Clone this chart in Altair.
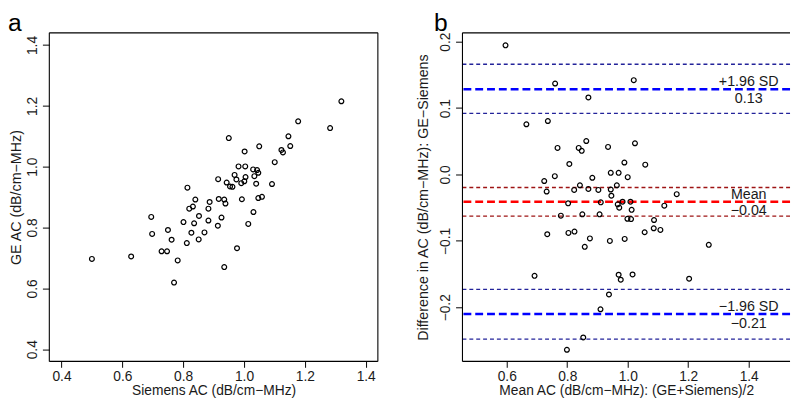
import altair as alt
import pandas as pd

FONT = "Liberation Sans"

# ---- Panel a: Siemens vs GE attenuation coefficient ----
siemens = [1.320, 1.178, 1.283, 0.950, 1.146, 1.050, 1.152, 1.002, 1.123, 1.128,
           1.101, 0.982, 1.004, 1.030, 1.043, 1.047, 1.034, 0.969, 1.005, 0.975,
           1.001, 0.991, 0.915, 0.943, 0.954, 0.962, 1.040, 1.092, 0.814, 0.840,
           0.887, 0.917, 0.935, 0.939, 0.993, 1.047, 1.059, 0.832, 0.820, 0.883,
           1.031, 0.852, 0.926, 0.695, 0.698, 0.750, 0.762, 0.729, 0.747, 0.500,
           0.629, 0.782, 0.770, 0.801, 0.836, 0.827, 0.812, 0.883, 0.870, 0.851,
           0.914, 0.977, 1.014, 0.935]
ge = [1.215, 1.149, 1.127, 1.094, 1.100, 1.067, 1.068, 1.050, 1.055, 1.047,
      1.015, 1.001, 1.001, 0.991, 0.989, 0.980, 0.969, 0.973, 0.966, 0.958,
      0.952, 0.946, 0.959, 0.948, 0.935, 0.934, 0.944, 0.943, 0.931, 0.892,
      0.884, 0.894, 0.892, 0.879, 0.893, 0.897, 0.901, 0.869, 0.862, 0.862,
      0.851, 0.838, 0.833, 0.835, 0.779, 0.792, 0.760, 0.722, 0.722, 0.697,
      0.705, 0.692, 0.619, 0.818, 0.814, 0.783, 0.749, 0.823, 0.784, 0.761,
      0.806, 0.732, 0.812, 0.670]

# ---- Panel b: Bland-Altman ----
mean_ac = [0.596, 0.760, 1.020, 0.870, 0.665, 0.736, 0.768, 0.838, 0.848, 0.863,
           0.935, 1.024, 0.807, 0.989, 1.058, 0.759, 0.944, 0.970, 0.883, 1.000,
           0.724, 0.732, 0.842, 0.823, 0.870, 0.903, 0.944, 0.946, 0.964, 1.162,
           0.803, 0.911, 0.967, 0.983, 1.009, 1.121, 0.972, 1.013, 0.779, 0.850,
           0.907, 0.999, 1.011, 1.087, 1.086, 1.108, 1.056, 0.734, 0.804, 0.824,
           0.875, 0.858, 0.941, 0.990, 1.268, 0.692, 0.970, 0.977, 1.016, 1.203,
           0.938, 0.910, 0.853, 0.799]
diff_ac = [0.1945, 0.137, 0.142, 0.116, 0.0756, 0.0805, 0.040, 0.040, 0.0356, 0.0504,
           0.0415, 0.047, 0.0158, 0.018, 0.0148, -0.0025, 0.0025, 0.0025, -0.005, -0.004,
           -0.0099, -0.0257, -0.0163, -0.0232, -0.0217, -0.0232, -0.0227, -0.032, -0.0163, -0.0296,
           -0.0435, -0.042, -0.045, -0.041, -0.041, -0.047, -0.050, -0.0533, -0.062, -0.060,
           -0.060, -0.0667, -0.0672, -0.0686, -0.081, -0.0835, -0.087, -0.090, -0.088, -0.086,
           -0.0963, -0.109, -0.100, -0.097, -0.106, -0.1526, -0.151, -0.1585, -0.1506, -0.157,
           -0.1807, -0.203, -0.2455, -0.264]

# limits of agreement / mean (thick lines)
main_values = [0.1285, -0.041, -0.21]
main_kind = ["loa", "mean", "loa"]
# confidence bands (thin lines)
ci_values = [0.166, 0.092, -0.0197, -0.0627, -0.173, -0.248]
ci_kind = ["loa", "loa", "mean", "mean", "loa", "loa"]

# annotation labels
upper_text = ["+1.96 SD", "Mean", "−1.96 SD"]
upper_line = [0.1285, -0.041, -0.21]
lower_text = ["0.13", "−0.04", "−0.21"]
lower_line = [0.1285, -0.041, -0.21]
label_x = [1.4, 1.4, 1.4]

ticks_a = [0.4, 0.6, 0.8, 1.0, 1.2, 1.4]
ticks_bx = [0.6, 0.8, 1.0, 1.2, 1.4]
ticks_by = [-0.2, -0.1, 0.0, 0.1, 0.2]

df_a = pd.DataFrame({"siemens": siemens, "ge": ge})
df_b = pd.DataFrame({"mean": mean_ac, "diff": diff_ac})
df_main = pd.DataFrame({"v": main_values, "kind": main_kind})
df_ci = pd.DataFrame({"v": ci_values, "kind": ci_kind})
df_up = pd.DataFrame({"x": label_x, "v": upper_line, "t": upper_text})
df_lo = pd.DataFrame({"x": label_x, "v": lower_line, "t": lower_text})

TXT = "#1a1a1a"


def xaxis(title, values):
    return alt.Axis(values=values, format=".1f", title=title, grid=False,
                    domain=False, tickSize=6, tickColor="black", tickWidth=1,
                    labelPadding=2, titlePadding=1, labelFontSize=14,
                    titleFontSize=14, labelFont=FONT, titleFont=FONT,
                    titleFontWeight="normal", labelColor=TXT, titleColor=TXT)


def yaxis(title, values, title_pad):
    return alt.Axis(values=values, format=".1f", title=title, grid=False,
                    domain=False, tickSize=7,
                    tickColor="black", tickWidth=1, labelAngle=-90,
                    labelAlign="center", labelBaseline="bottom",
                    labelPadding=3, titlePadding=title_pad, labelFontSize=14,
                    titleFontSize=14.5, labelFont=FONT, titleFont=FONT,
                    titleFontWeight="normal", labelColor=TXT, titleColor=TXT)


def frame(w, h, right=True):
    one = pd.DataFrame({"k": [0]})
    base = alt.Chart(one).mark_rule(color="black", strokeWidth=1.1)
    parts = [
        base.encode(y=alt.value(0), x=alt.value(0), x2=alt.value(w)),
        base.encode(y=alt.value(h), x=alt.value(0), x2=alt.value(w)),
        base.encode(x=alt.value(0), y=alt.value(0), y2=alt.value(h)),
    ]
    if right:
        parts.append(base.encode(x=alt.value(w), y=alt.value(0), y2=alt.value(h)))
    return parts


W = 334
H = 334
PT_SIZE = 24
PT_SW = 1.2

xs_a = alt.Scale(domain=[0.36, 1.44], nice=False, zero=False)
ys_a = alt.Scale(domain=[0.36, 1.44], nice=False, zero=False)

pts_a = alt.Chart(df_a).mark_point(
    shape="circle", filled=False, size=PT_SIZE, strokeWidth=PT_SW, color="black", opacity=1
).encode(
    x=alt.X("siemens:Q", scale=xs_a, axis=xaxis("Siemens AC (dB/cm−MHz)", ticks_a)),
    y=alt.Y("ge:Q", scale=ys_a, axis=yaxis("GE AC (dB/cm−MHz)", ticks_a, 2)),
)

lab_a = alt.Chart(pd.DataFrame({"t": ["a"]})).mark_text(
    font=FONT, fontSize=25, align="left", baseline="top", color="black"
).encode(text="t:N", x=alt.value(-42), y=alt.value(-22))

panel_a = alt.layer(pts_a, *frame(W, H), lab_a).properties(width=W, height=H)

WB = 333
xs_b = alt.Scale(domain=[0.4537, 1.5366], nice=False, zero=False)
ys_b = alt.Scale(domain=[-0.2815, 0.2133], nice=False, zero=False)


def hline(df, kind, color, width, dash):
    return alt.Chart(df).transform_filter(alt.datum.kind == kind).mark_rule(
        color=color, strokeWidth=width, strokeDash=dash
    ).encode(y=alt.Y("v:Q", scale=ys_b))


thin_blue = hline(df_ci, "loa", "#23239a", 1.4, [4, 3])
thin_red = hline(df_ci, "mean", "#9e1414", 1.4, [4, 3])
thick_blue = hline(df_main, "loa", "#0000ff", 2.6, [8, 4])
thick_red = hline(df_main, "mean", "#ff0000", 2.6, [8, 4])

pts_b = alt.Chart(df_b).mark_point(
    shape="circle", filled=False, size=PT_SIZE, strokeWidth=PT_SW, color="black", opacity=1
).encode(
    x=alt.X("mean:Q", scale=xs_b, axis=xaxis("Mean AC (dB/cm−MHz): (GE+Siemens)/2", ticks_bx)),
    y=alt.Y("diff:Q", scale=ys_b,
            axis=yaxis("Difference in AC (dB/cm−MHz): GE−Siemens", ticks_by, 9)),
)

txt_up = alt.Chart(df_up).mark_text(
    font=FONT, fontSize=14.5, align="center", baseline="alphabetic", dy=-3, color=TXT
).encode(x=alt.X("x:Q", scale=xs_b), y=alt.Y("v:Q", scale=ys_b), text="t:N")
txt_lo = alt.Chart(df_lo).mark_text(
    font=FONT, fontSize=14.5, align="center", baseline="alphabetic", dy=14, color=TXT
).encode(x=alt.X("x:Q", scale=xs_b), y=alt.Y("v:Q", scale=ys_b), text="t:N")

lab_b = alt.Chart(pd.DataFrame({"t": ["b"]})).mark_text(
    font=FONT, fontSize=25, align="left", baseline="top", color="black"
).encode(text="t:N", x=alt.value(-29), y=alt.value(-22))

panel_b = alt.layer(thin_blue, thin_red, thick_blue, thick_red, pts_b, txt_up, txt_lo,
                    *frame(WB, H, right=False), lab_b).properties(width=WB, height=H)

chart = alt.hconcat(panel_a, panel_b, spacing=37).properties(
    padding={"left": 0, "top": 0, "right": 0, "bottom": 0}
).configure_view(stroke="transparent", strokeWidth=0)

chart.save("out.html", embed_options={"renderer": "svg", "actions": False})
